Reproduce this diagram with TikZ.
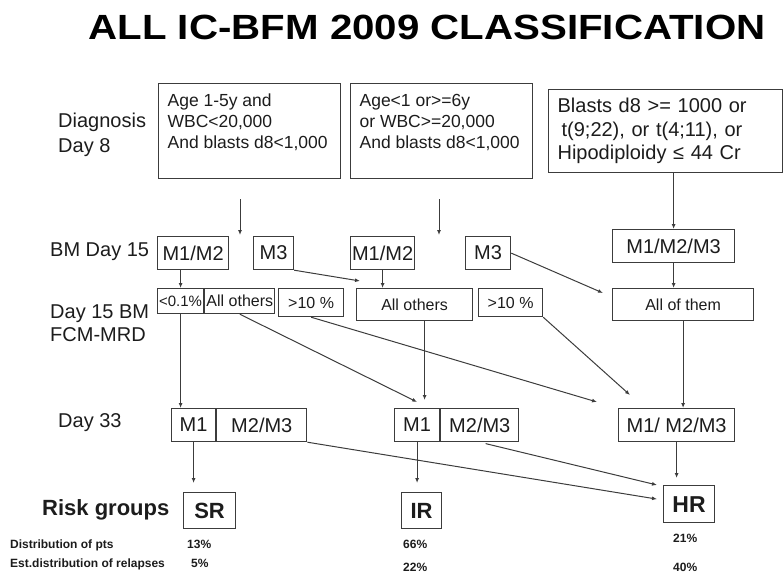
\documentclass[tikz,border=0pt]{standalone}
\usepackage{fontspec}
\setmainfont{Liberation Sans}
\newfontfamily\titlefont[FakeStretch=1.15]{Liberation Sans}
\usetikzlibrary{arrows.meta,positioning}
\definecolor{ink}{HTML}{1C1C1C}
\definecolor{edge}{HTML}{3C3C3C}

\begin{document}
\begin{tikzpicture}[
    x=1pt, y=-1pt,
    box/.style={draw=edge,line width=1.2pt,inner sep=0pt,anchor=north west,text=ink,font=\fontsize{20}{24}\selectfont},
    small/.style={box,font=\fontsize{16}{19}\selectfont},
    crit/.style={draw=edge,line width=1.2pt,anchor=north west,inner ysep=0pt,inner xsep=9pt,text=ink,font=\fontsize{17.5}{21}\selectfont},
    risk/.style={box,font=\fontsize{22}{26}\selectfont\bfseries},
    lbl/.style={inner sep=0pt,align=left,anchor=north west,text=ink,font=\fontsize{20}{25}\selectfont},
    pct/.style={inner sep=0pt,anchor=base west,text=ink,font=\fontsize{12}{14}\selectfont\bfseries},
    arrow/.style={-{Latex[length=5pt,width=4pt]},draw=edge,line width=1pt}
  ]
  \useasboundingbox (0,0) rectangle (784,575);

  \node[inner sep=0pt,anchor=base,text=black,font=\titlefont\fontsize{35}{40}\selectfont\bfseries] (title) at (427,40) {ALL IC-BFM 2009 CLASSIFICATION};

  \node[lbl] (diag) at (58,112.5) {Diagnosis\\Day 8};
  \node[lbl,anchor=base west] (bm15) at (50,256) {BM Day 15};
  \node[lbl,font=\fontsize{20}{23}\selectfont] (mrd15) at (50,304.5) {Day 15 BM\\FCM-MRD};
  \node[lbl,anchor=base west] (day33) at (58,427) {Day 33};
  \node[lbl,anchor=base west,font=\fontsize{22}{26}\selectfont\bfseries] (riskg) at (42,515) {Risk groups};
  \node[pct] (distp) at (10,548) {Distribution of pts};
  \node[pct] (distr) at (10,567) {Est.distribution of relapses};

  \node[crit] (dx1) at (158,83) {\parbox[t][95pt][t]{164pt}{\rule{0pt}{23pt}Age 1-5y and\\WBC<20,000\\And blasts d8<1,000}};
  \node[crit] (dx2) at (350,83) {\parbox[t][95pt][t]{164pt}{\rule{0pt}{23pt}Age<1 or>=6y\\or WBC>=20,000\\And blasts d8<1,000}};
  \node[crit,font=\fontsize{20}{23.5}\selectfont,text width=216pt,minimum height=83pt,align=left] (dx3) at (548,89) {Blasts d8 >= 1000 or\\\hspace{4pt}t(9;22), or t(4;11), or\\Hipodiploidy ≤ 44 Cr};

  \node[box,minimum width=71pt,minimum height=33pt] (bma1) at (157,236) {M1/M2};
  \node[box,minimum width=40pt,minimum height=33pt] (bma2) at (253,236) {M3};
  \node[box,minimum width=64pt,minimum height=33pt] (bmb1) at (350,236) {M1/M2};
  \node[box,minimum width=45pt,minimum height=33pt] (bmb2) at (465,236) {M3};
  \node[box,minimum width=122pt,minimum height=33pt] (bmc) at (612,229) {M1/M2/M3};

  \node[small,font=\fontsize{15}{18}\selectfont,minimum width=46pt,minimum height=25pt] (mrda1) at (157,288) {<0.1\%};
  \node[small,minimum width=70pt,minimum height=25pt,right=0pt of mrda1] (mrda2) {All others};
  \node[small,minimum width=65pt,minimum height=28pt] (mrda3) at (278,288) {>10 \%};
  \node[small,minimum width=116pt,minimum height=32pt] (mrdb1) at (356,288) {All others};
  \node[small,minimum width=64pt,minimum height=28pt] (mrdb2) at (478,288) {>10 \%};
  \node[small,minimum width=141pt,minimum height=32pt] (mrdc) at (612,288) {All of them};

  \node[box,minimum width=44pt,minimum height=33pt] (d33a1) at (171,408) {M1};
  \node[box,minimum width=90pt,minimum height=33pt,right=0pt of d33a1] (d33a2) {M2/M3};
  \node[box,minimum width=45pt,minimum height=33pt] (d33b1) at (394,408) {M1};
  \node[box,minimum width=78pt,minimum height=33pt,right=0pt of d33b1] (d33b2) {M2/M3};
  \node[box,minimum width=116pt,minimum height=33pt] (d33c) at (618,408) {M1/ M2/M3};

  \node[risk,minimum width=52pt,minimum height=36pt] (sr) at (183,492) {SR};
  \node[risk,minimum width=40pt,minimum height=36pt] (ir) at (401,492) {IR};
  \node[risk,font=\fontsize{23}{27}\selectfont\bfseries,minimum width=51pt,minimum height=37pt] (hr) at (663,485) {HR};

  \node[pct] (srp) at (187,548) {13\%};
  \node[pct] (srr) at (191,567) {5\%};
  \node[pct] (irp) at (403,548) {66\%};
  \node[pct] (irr) at (403,571) {22\%};
  \node[pct] (hrp) at (673,542) {21\%};
  \node[pct] (hrr) at (673,571) {40\%};

  \coordinate (gapa) at (240,235);
  \coordinate (gapb) at (439,235);
  \draw[arrow,shorten <=20pt] (dx1.south -| gapa) -- (gapa);
  \draw[arrow,shorten <=20pt] (dx2.south -| gapb) -- (gapb);
  \draw[arrow] (bmc.north |- dx3.south) -- (bmc.north);
  \draw[arrow] (mrda1.north |- bma1.south) -- (mrda1.north);
  \draw[arrow] (bma2.south east) -- ([xshift=4pt,yshift=7pt]mrdb1.north west);
  \draw[arrow] (bmb1.south) -- (bmb1.south |- mrdb1.north);
  \draw[arrow] (bmb2.east) -- ([xshift=-9pt,yshift=-5pt]mrdc.north west);
  \draw[arrow] (bmc.south) -- (bmc.south |- mrdc.north);
  \draw[arrow] (mrda1.south) -- (mrda1.south |- d33a1.north);
  \draw[arrow] (mrda2.south) -- ([yshift=6pt]d33b1.north);
  \draw[arrow] ([xshift=10pt]mrdb1.south) -- ([xshift=10pt,yshift=8pt]mrdb1.south |- d33b1.north);
  \draw[arrow] (mrda3.south) -- ([xshift=-21pt,yshift=6pt]d33c.north west);
  \draw[arrow] (mrdb2.south east) -- ([xshift=12pt,yshift=13pt]d33c.north west);
  \draw[arrow] (mrdc.south) -- (mrdc.south |- d33c.north);
  \draw[arrow] (d33a1.south) -- ([yshift=9pt]d33a1.south |- sr.north);
  \draw[arrow] (d33a2.south east) -- ([xshift=-6pt,yshift=5pt]hr.west);
  \draw[arrow] (d33b1.south) -- ([yshift=9pt]d33b1.south |- ir.north);
  \draw[arrow,shorten <=6pt] (d33b2.south) -- ([xshift=-6pt]hr.north west);
  \draw[arrow] (d33c.south) -- ([yshift=7pt]d33c.south |- hr.north);
\end{tikzpicture}
\end{document}
